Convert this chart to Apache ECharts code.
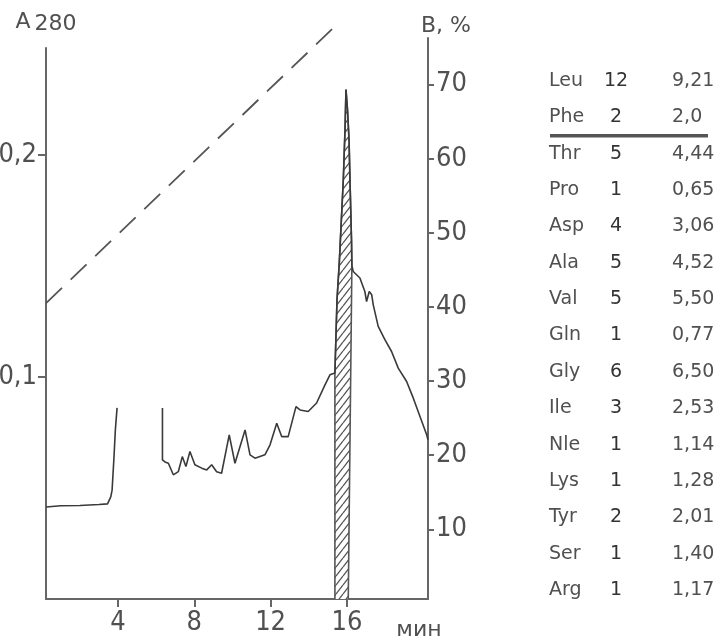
<!DOCTYPE html>
<html>
<head>
<meta charset="utf-8">
<script src="https://cdn.jsdelivr.net/npm/echarts@6/dist/echarts.min.js"></script>
<style>html,body{margin:0;padding:0;background:#fff}#c{width:725px;height:640px}</style>
</head>
<body>
<div id="c"></div>
<script>
// ---- data ----
// absorbance A280, first segment (min)
const seg1Time = [0.23, 1.0, 2.0, 3.0, 3.45, 3.62, 3.69, 3.79, 3.86, 3.95];
const seg1Abs  = [0.0414, 0.0420, 0.0421, 0.0425, 0.0428, 0.046, 0.049, 0.064, 0.076, 0.086];
// absorbance A280, second segment
const seg2Time = [6.33, 6.33, 6.46, 6.64, 6.90, 7.16, 7.37, 7.56, 7.77, 8.03, 8.39, 8.65, 8.91, 9.17, 9.43,
                  9.83, 10.13, 10.66, 10.92, 11.18, 11.70, 11.97, 12.32, 12.58, 12.92, 13.33, 13.54, 13.97,
                  14.41, 14.85, 15.11, 15.37, 15.48, 15.60, 15.81, 15.90, 15.95, 16.03, 16.11, 16.16, 16.24,
                  16.26, 16.33, 16.68, 16.94, 17.03, 17.17, 17.30, 17.38, 17.64, 17.99, 18.34, 18.69, 19.13,
                  19.48, 19.83, 20.18, 20.25];
const seg2Abs  = [0.086, 0.0626, 0.0617, 0.0611, 0.0559, 0.0573, 0.0641, 0.0596, 0.0664, 0.0604, 0.0589, 0.0581,
                  0.0604, 0.0573, 0.0566, 0.0739, 0.0611, 0.0761, 0.0649, 0.0634, 0.0649, 0.0694, 0.0791, 0.0731,
                  0.0731, 0.0866, 0.0851, 0.0844, 0.0882, 0.0964, 0.1009, 0.1017, 0.1347, 0.1514, 0.1887, 0.2113,
                  0.2293, 0.2203, 0.2068, 0.1887, 0.1617, 0.150, 0.1474, 0.1445, 0.1384, 0.1339, 0.1384, 0.1369,
                  0.1324, 0.1227, 0.1167, 0.1114, 0.1039, 0.0979, 0.0904, 0.0821, 0.0739, 0.0716];
// collected (hatched) fraction outline
const bandTime = [15.37, 15.37, 15.48, 15.60, 15.81, 15.90, 15.95, 16.03, 16.11, 16.16, 16.24, 16.26, 16.07];
const bandAbs  = [0, 0.1017, 0.1347, 0.1514, 0.1887, 0.2113, 0.2293, 0.2203, 0.2068, 0.1887, 0.1617, 0.150, 0];
// gradient B, %
const gradTime = [0.23, 15.63];
const gradB    = [40.5, 78.45];
// tick labels
const xTicks = [4, 8, 12, 16];
const leftTicks = [0.1, 0.2];
const rightTicks = [10, 20, 30, 40, 50, 60, 70];
// amino-acid composition table
const aminoNames  = ['Leu','Phe','Thr','Pro','Asp','Ala','Val','Gln','Gly','Ile','Nle','Lys','Tyr','Ser','Arg'];
const aminoCounts = ['12','2','5','1','4','5','5','1','6','3','1','1','2','1','1'];
const aminoValues = ['9,21','2,0','4,44','0,65','3,06','4,52','5,50','0,77','6,50','2,53','1,14','1,28','2,01','1,40','1,17'];

// ---- rendering ----
const axisColor = '#666';
const txtColor = '#505050';
const tickFont = "'Liberation Sans Narrow','DejaVu Sans Condensed','Liberation Sans',sans-serif";
const titleFont = "'DejaVu Sans',sans-serif";

function stripePattern() {
  const W = 7, H = 9;
  const c = document.createElement('canvas');
  c.width = W; c.height = H;
  const g = c.getContext('2d');
  g.fillStyle = '#fff'; g.fillRect(0, 0, W, H);
  g.strokeStyle = '#555'; g.lineWidth = 1.3;
  g.beginPath();
  [-W, 0, W].forEach(ox => { g.moveTo(ox, H); g.lineTo(ox + W, 0); });
  g.stroke();
  return c;
}
const zip = (a, b) => a.map((v, i) => [v, b[i]]);

const tableFont = "19px 'DejaVu Sans',sans-serif";
const tableChildren = [];
aminoNames.forEach((n, i) => {
  const y = 81 + i * 36.36;
  tableChildren.push({type:'text', style:{text:n, x:549, y:y, align:'left', verticalAlign:'middle',
    font:tableFont, fill:txtColor}});
  tableChildren.push({type:'text', style:{text:aminoCounts[i], x:616, y:y, align:'center', verticalAlign:'middle',
    font:tableFont, fill:'#333'}});
  tableChildren.push({type:'text', style:{text:aminoValues[i], x:672, y:y, align:'left', verticalAlign:'middle',
    font:tableFont, fill:txtColor}});
});
tableChildren.push({type:'rect', shape:{x:550, y:134, width:158, height:3.5}, style:{fill:'#555'}});

const chart = echarts.init(document.getElementById('c'), null, {renderer:'canvas'});
chart.setOption({
  animation: false,
  backgroundColor: '#fff',
  grid: [
    {left:46, right:297, top:48, bottom:41, outerBoundsMode:'none'},
    {left:46, right:297, top:38, bottom:41, outerBoundsMode:'none'}
  ],
  xAxis: [
    {gridIndex:0, type:'value', min:0.225, max:20.25,
     axisLine:{show:true, onZero:false, lineStyle:{color:axisColor, width:2}},
     splitLine:{show:false},
     axisTick:{show:true, customValues:xTicks, length:8, lineStyle:{color:axisColor, width:2}},
     axisLabel:{show:true, customValues:xTicks, margin:10, color:txtColor, fontSize:27, fontFamily:tickFont}},
    {gridIndex:1, type:'value', min:0.225, max:20.25, show:false}
  ],
  yAxis: [
    {gridIndex:0, type:'value', min:0, max:0.248, position:'left',
     name:'{a|A}{s|280}', nameLocation:'end', nameGap:11,
     nameTextStyle:{rich:{a:{fontSize:22, fontFamily:titleFont, color:txtColor, padding:[0,4,4,0]},
                          s:{fontSize:22, fontFamily:titleFont, color:txtColor}}},
     axisLine:{show:true, onZero:false, lineStyle:{color:axisColor, width:2}},
     splitLine:{show:false},
     axisTick:{show:true, customValues:leftTicks, length:8, lineStyle:{color:axisColor, width:2}},
     axisLabel:{show:true, customValues:leftTicks, margin:9, color:txtColor, fontSize:27, fontFamily:tickFont,
       formatter: v => v.toFixed(1).replace('.', ',')}},
    {gridIndex:1, type:'value', min:0.62, max:76.25, position:'right',
     name:'B, %', nameLocation:'end', nameGap:1,
     nameTextStyle:{fontSize:22, fontFamily:titleFont, color:txtColor, padding:[0,0,0,36]},
     axisLine:{show:true, onZero:false, lineStyle:{color:axisColor, width:2}},
     splitLine:{show:false},
     axisTick:{show:true, customValues:rightTicks, length:6, lineStyle:{color:axisColor, width:2}},
     axisLabel:{show:true, customValues:rightTicks, margin:8, color:txtColor, fontSize:27, fontFamily:tickFont}}
  ],
  series: [
    {type:'line', name:'fraction', xAxisIndex:0, yAxisIndex:0, data:zip(bandTime, bandAbs),
     showSymbol:false, symbol:'none', lineStyle:{color:'#555', width:1.6},
     areaStyle:{color:{image:stripePattern(), repeat:'repeat'}, opacity:1, origin:'start'}, z:2},
    {type:'line', name:'A280 a', xAxisIndex:0, yAxisIndex:0, data:zip(seg1Time, seg1Abs),
     showSymbol:false, symbol:'none', lineStyle:{color:'#3a3a3a', width:1.6}, z:3},
    {type:'line', name:'A280 b', xAxisIndex:0, yAxisIndex:0, data:zip(seg2Time, seg2Abs),
     showSymbol:false, symbol:'none', lineStyle:{color:'#3a3a3a', width:1.6}, z:3},
    {type:'line', name:'B', xAxisIndex:1, yAxisIndex:1, data:zip(gradTime, gradB), clip:false,
     showSymbol:false, symbol:'none', lineStyle:{color:'#555', width:1.8, type:[22,12]}, z:3}
  ],
  graphic: [
    {type:'text', style:{text:'мин', x:419, y:630, align:'center', verticalAlign:'middle',
      font:"22px 'DejaVu Sans',sans-serif", fill:txtColor}},
    {type:'group', children:tableChildren}
  ]
});
</script>
</body>
</html>
